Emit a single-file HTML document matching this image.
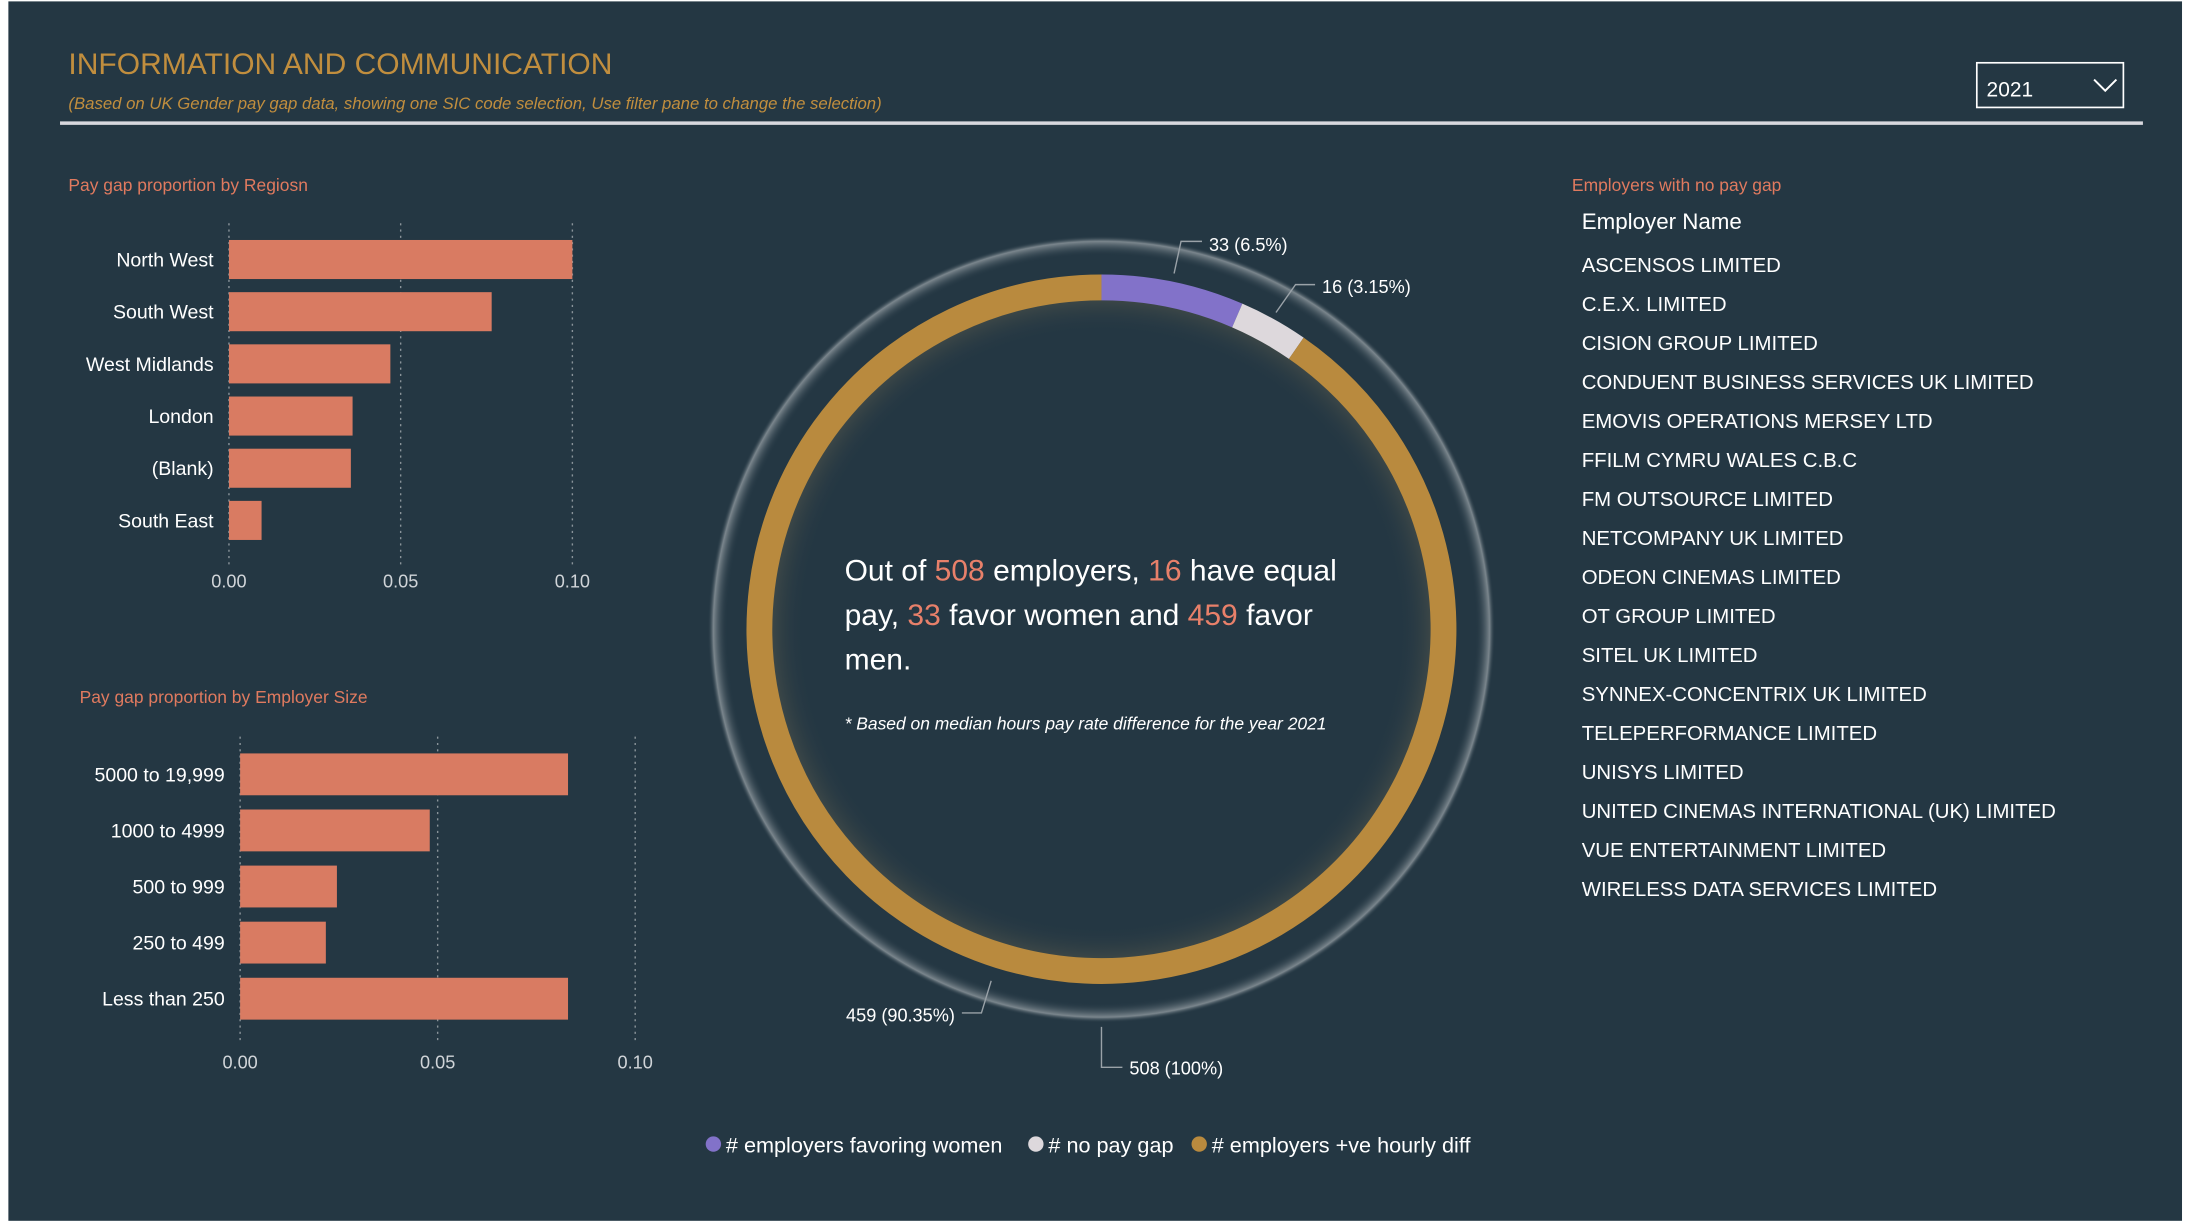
<!DOCTYPE html>
<html><head><meta charset="utf-8"><style>
html,body{margin:0;padding:0;background:#fff;}
svg{display:block;font-family:"Liberation Sans",sans-serif;}
</style></head><body>
<svg id="s" width="2189" height="1225" viewBox="0 0 1568 878" preserveAspectRatio="none">
<defs>
<radialGradient id="glow" cx="0.5" cy="0.5" r="0.5">
<stop offset="0.95" stop-color="#243743" stop-opacity="0"/>
<stop offset="0.986" stop-color="#8a949a" stop-opacity="0.85"/>
<stop offset="1" stop-color="#243743" stop-opacity="0"/>
</radialGradient>
<radialGradient id="inglow" cx="0.5" cy="0.5" r="0.5">
<stop offset="0.9" stop-color="#243743" stop-opacity="0"/>
<stop offset="1" stop-color="#3e4847" stop-opacity="0.9"/>
</radialGradient>
</defs>
<rect x="0" y="0" width="1568" height="878" fill="#ffffff"/>
<rect x="6" y="1" width="1557" height="874" fill="#243743"/>
<text x="49" y="53" font-size="21.5" fill="#C18E3E">INFORMATION AND COMMUNICATION</text>
<text x="49" y="78" font-size="12" font-style="italic" fill="#C18E3E">(Based on UK Gender pay gap data, showing one SIC code selection, Use filter pane to change the selection)</text>
<rect x="43" y="87" width="1492" height="2.5" fill="#d8d8de"/>
<g>
<rect x="1416" y="45" width="105" height="32" fill="#243743" stroke="#ffffff" stroke-width="1.2"/>
<text x="1423" y="69" font-size="15" fill="#fff">2021</text>
<path d="M1500 57 L1508 65 L1516 57" fill="none" stroke="#fff" stroke-width="1.4"/>
</g>
<text x="49" y="137" font-size="12.5" fill="#E07A5F">Pay gap proportion by Regiosn</text>
<g id="regionChart"></g>
<text x="57" y="504" font-size="12.5" fill="#E07A5F">Pay gap proportion by Employer Size</text>
<g id="sizeChart"></g>
<g id="donut">
<circle cx="789" cy="451" r="282" fill="url(#glow)"/>
<circle cx="789" cy="451" r="236" fill="url(#inglow)"/>
</g>
<g font-size="21.5" fill="#fff">
<text x="605" y="416">Out of <tspan fill="#E8806A">508</tspan> employers,  <tspan fill="#E8806A">16</tspan> have equal</text>
<text x="605" y="448">pay, <tspan fill="#E8806A">33</tspan> favor women and <tspan fill="#E8806A">459</tspan> favor</text>
<text x="605" y="480">men.</text>
<text x="605" y="523" font-size="12.5" font-style="italic">* Based on median hours pay rate difference for the year 2021</text>
</g>
<g font-size="15.5" fill="#fff">
<circle cx="511" cy="820" r="5.5" fill="#8272C9"/><text x="520" y="826">#  employers favoring women</text>
<circle cx="742" cy="820" r="5.5" fill="#DDD8DC"/><text x="751" y="826"># no pay gap</text>
<circle cx="859" cy="820" r="5.5" fill="#B98A3E"/><text x="868" y="826"># employers +ve hourly diff</text>
</g>
<text x="1126" y="137" font-size="12.5" fill="#E07A5F">Employers with no pay gap</text>
<text x="1133" y="164" font-size="16" fill="#fff">Employer Name</text>
<g id="emps" font-size="14.6" fill="#fff"></g>
</svg>
<script>
const regionCats=["North West","South West","West Midlands","London","(Blank)","South East"];
const regionVals=[0.100,0.0765,0.047,0.036,0.0355,0.0095];
const sizeCats=["5000 to 19,999","1000 to 4999","500 to 999","250 to 499","Less than 250"];
const sizeVals=[0.083,0.048,0.0245,0.0217,0.083];
const tickVals=[0,0.05,0.10];
const tickLabels=["0.00","0.05","0.10"];
const donutLabels=["# employers favoring women","# no pay gap","# employers +ve hourly diff"];
const donutVals=[33,16,459];
const employers=["ASCENSOS LIMITED","C.E.X. LIMITED","CISION GROUP LIMITED","CONDUENT BUSINESS SERVICES UK LIMITED","EMOVIS OPERATIONS MERSEY LTD","FFILM CYMRU WALES C.B.C","FM OUTSOURCE LIMITED","NETCOMPANY UK LIMITED","ODEON CINEMAS LIMITED","OT GROUP LIMITED","SITEL UK LIMITED","SYNNEX-CONCENTRIX UK LIMITED","TELEPERFORMANCE LIMITED","UNISYS LIMITED","UNITED CINEMAS INTERNATIONAL (UK) LIMITED","VUE ENTERTAINMENT LIMITED","WIRELESS DATA SERVICES LIMITED"];
const NS="http://www.w3.org/2000/svg";
function mk(tag,attrs,parent){const e=document.createElementNS(NS,tag);for(const k in attrs)e.setAttribute(k,attrs[k]);parent.appendChild(e);return e;}
function barChart(g,cats,vals,x0,pxPerUnit,yTop,step,bh,labelX,gridTop,gridBot,tickY,prefix){
  const xs=v=>x0+v*pxPerUnit;
  tickVals.forEach((t,i)=>{
    const l=mk('line',{x1:xs(t),x2:xs(t),y1:gridTop,y2:gridBot,stroke:'#8a949a','stroke-dasharray':'1.5,3','stroke-width':1},g);
    
    
    const tx=mk('text',{x:xs(t),y:tickY,'font-size':13,fill:'#d0d4d8','text-anchor':'middle'},g);
    tx.textContent=tickLabels[i];
    
    
  });
  cats.forEach((c,i)=>{
    const cy=yTop+i*step;
    const r=mk('rect',{x:x0,y:cy-bh/2,width:xs(vals[i])-x0,height:bh,fill:'#D97B62'},g);
    
    
    const t=mk('text',{x:labelX,y:cy+5,'font-size':14,fill:'#fff','text-anchor':'end'},g);
    t.textContent=c;
    
    
  });
}
barChart(document.getElementById('regionChart'),regionCats,regionVals,164,2460,186,37.4,28,153,160,405,421,'region');
barChart(document.getElementById('sizeChart'),sizeCats,sizeVals,172,2830,555,40.2,30,161,528,748,766,'size');
const dg=document.getElementById('donut');
const cx=789,cy=451,R=245,W=18.5;
const cols=["#8272C9","#DDD8DC","#B98A3E"];
const total=donutVals.reduce((a,b)=>a+b,0);
let a0=0;
function pt(a,r){return [cx+r*Math.sin(a),cy-r*Math.cos(a)];}
donutVals.forEach((v,i)=>{
  const a1=a0+v/total*2*Math.PI;
  const p0=pt(a0,R),p1=pt(a1,R);
  const large=(a1-a0)>Math.PI?1:0;
  const p=mk('path',{d:`M${p0[0]} ${p0[1]} A${R} ${R} 0 ${large} 1 ${p1[0]} ${p1[1]}`,fill:'none',stroke:cols[i],'stroke-width':W},dg);
  
  
  a0=a1;
});
function label(x1,y1,x2,y2,x3,y3,tx,ty,anchor,txt){
  const l=mk('polyline',{points:`${x1},${y1} ${x2},${y2} ${x3},${y3}`,fill:'none',stroke:'#9aa2a8','stroke-width':1},dg);
  
  
  const t=mk('text',{x:tx,y:ty,'font-size':13,fill:'#fff','text-anchor':anchor},dg);
  t.textContent=txt;
  
  
}
label(841,196,846,173,861,173,866,180,'start',donutVals[0]+" ("+(donutVals[0]/total*100).toFixed(1)+"%)");
label(914,224,928,204,942,204,947,210,'start',donutVals[1]+" ("+(donutVals[1]/total*100).toFixed(2)+"%)");
label(710,703,703,726,689,726,684,732,'end',donutVals[2]+" ("+(donutVals[2]/total*100).toFixed(2)+"%)");
label(789,736,789,765,804,765,809,770,'start',total+" (100%)");
const eg=document.getElementById('emps');
employers.forEach((n,i)=>{
  const t=mk('text',{x:1133,y:195+i*27.95},eg);
  t.textContent=n;
  
  
});
</script>
</body></html>
